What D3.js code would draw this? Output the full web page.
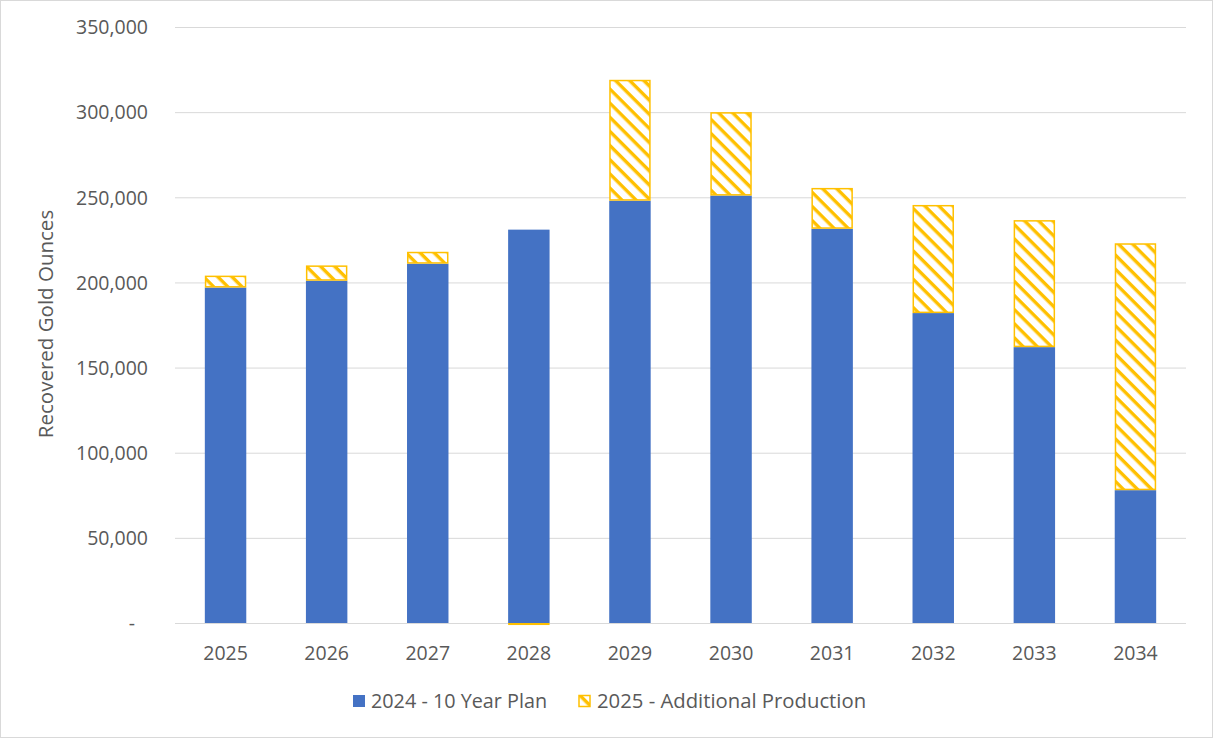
<!DOCTYPE html>
<html><head><meta charset="utf-8">
<script src="https://cdn.jsdelivr.net/npm/d3@7"></script>
<style>body{margin:0;background:#fff}svg{display:block}</style>
</head><body>
<script>
const years = ["2025","2026","2027","2028","2029","2030","2031","2032","2033","2034"];
const planValues = [197000, 201000, 211000, 231000, 248000, 251000, 231500, 182000, 162000, 78000];
const additionalValues = [7000, 9000, 7000, -1200, 71000, 49000, 24000, 63500, 74600, 145000];
const yTicks = [0, 50000, 100000, 150000, 200000, 250000, 300000, 350000];
const seriesNames = ["2024 - 10 Year Plan", "2025 - Additional Production"];

const W = 1213, H = 738;
const font = "'Open Sans', sans-serif";
const fs = 19.5;
const svg = d3.select("body").append("svg").attr("width", W).attr("height", H);
svg.append("rect").attr("x",0.5).attr("y",0.5).attr("width",W-1).attr("height",H-1)
  .attr("fill","#fff").attr("stroke","#d9d9d9");

const defs = svg.append("defs");
const pat = defs.append("pattern").attr("id","hatch").attr("patternUnits","userSpaceOnUse")
  .attr("width",10).attr("height",10).attr("patternTransform","rotate(45)");
pat.append("rect").attr("width",10).attr("height",10).attr("fill","#fff");
pat.append("rect").attr("x",0).attr("y",0).attr("width",10).attr("height",3.4).attr("fill","#FFC000");

const x = d3.scaleBand().domain(years).range([175, 1186]).paddingInner(0.59).paddingOuter(0.295);
const y = d3.scaleLinear().domain([0, 350000]).range([623, 27]);

// gridlines
svg.append("g").selectAll("line").data(yTicks).join("line")
  .attr("x1",175).attr("x2",1186).attr("y1",d=>y(d)+0.5).attr("y2",d=>y(d)+0.5)
  .attr("stroke","#d9d9d9").attr("stroke-width",1);

// y labels
const yAxis = d3.axisLeft(y).tickValues(yTicks).tickSize(0).tickPadding(0)
  .tickFormat(d => d === 0 ? "-" : d3.format(",")(d));
const gy = svg.append("g").attr("transform","translate(148,0)").call(yAxis);
gy.select(".domain").remove();
gy.selectAll("text").attr("font-family",font).attr("font-size",fs).attr("fill","#595959").attr("dy","0.35em");
gy.selectAll("text").filter(d=>d===0).attr("dx",-13);

// x labels
const xAxis = d3.axisBottom(x).tickSize(0).tickPadding(0);
const gx = svg.append("g").attr("transform","translate(0,653)").call(xAxis);
gx.select(".domain").remove();
gx.selectAll("text").attr("font-family",font).attr("font-size",fs).attr("fill","#595959").attr("dy","0.35em");

// bars
const bw = x.bandwidth();
svg.append("g").selectAll("rect").data(years).join("rect")
  .attr("x", d=>x(d)).attr("width", bw)
  .attr("y", (d,i)=>y(planValues[i])).attr("height",(d,i)=>y(0)-y(planValues[i]))
  .attr("fill","#4472C4");
svg.append("g").selectAll("rect").data(years).join("rect")
  .attr("x", d=>x(d)+0.75).attr("width", bw-1.5)
  .attr("y", (d,i)=> additionalValues[i] >= 0 ? y(planValues[i]+additionalValues[i])+0.75 : y(0)+0.75)
  .attr("height",(d,i)=> Math.max(0, Math.abs(y(0)-y(additionalValues[i]))-1.5))
  .attr("fill","url(#hatch)").attr("stroke","#FFC000").attr("stroke-width",1.5);

// y title
svg.append("text").attr("transform","translate(53,324) rotate(-90)")
  .attr("text-anchor","middle").attr("font-family",font).attr("font-size",20.5).attr("fill","#595959")
  .text("Recovered Gold Ounces");

// legend
const lg = svg.append("g");
lg.append("rect").attr("x",353).attr("y",695).attr("width",12).attr("height",12).attr("fill","#4472C4");
lg.append("text").attr("x",371).attr("y",701).attr("dy","0.35em").attr("font-family",font).attr("font-size",19.8).attr("fill","#595959").text(seriesNames[0]);
lg.append("rect").attr("x",579).attr("y",695.5).attr("width",11).attr("height",11).attr("fill","url(#hatch)").attr("stroke","#FFC000").attr("stroke-width",1.5);
lg.append("text").attr("x",597).attr("y",701).attr("dy","0.35em").attr("font-family",font).attr("font-size",20.3).attr("fill","#595959").text(seriesNames[1]);
</script>
</body></html>
